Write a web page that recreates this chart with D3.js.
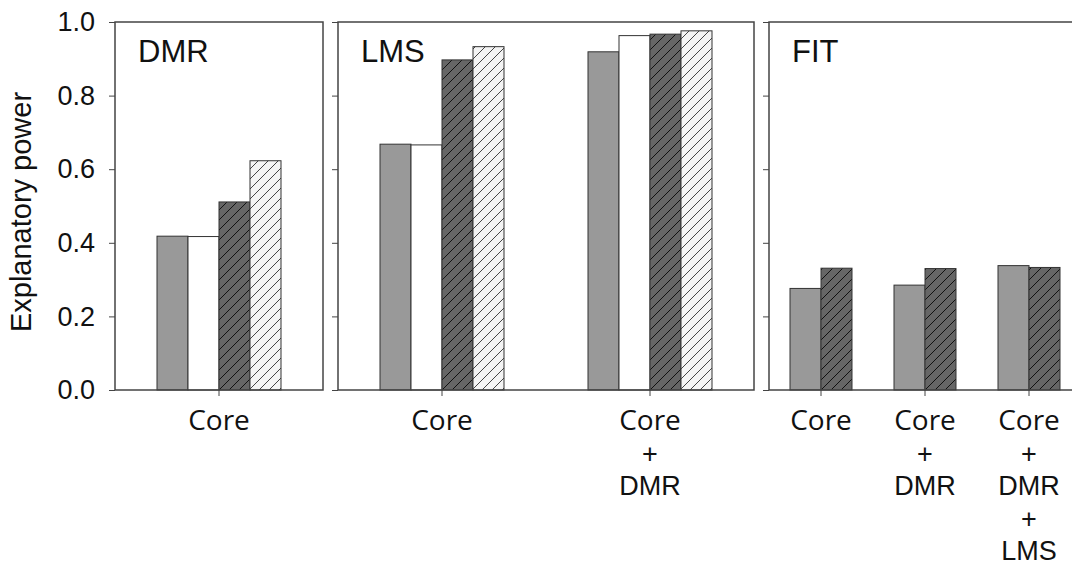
<!DOCTYPE html>
<html>
<head>
<meta charset="utf-8">
<script src="https://cdnjs.cloudflare.com/ajax/libs/d3/7.8.5/d3.min.js"></script>
<style>
  body { margin: 0; background: #fff; }
  svg { display: block; }
</style>
</head>
<body>
<div id="chart"></div>
<script>
// Values
var PANELS = ["DMR", "LMS", "FIT"];

var dmrGroups = [["Core"]];
var dmrSeries = ["gray", "white", "dark", "light"];
var dmrValues = [[0.418, 0.417, 0.511, 0.623]];

var lmsGroups = [["Core"], ["Core", "+", "DMR"]];
var lmsSeries = ["gray", "white", "dark", "light"];
var lmsValues = [
    [0.668, 0.666, 0.897, 0.933],
    [0.919, 0.963, 0.967, 0.976]
];

var fitGroups = [["Core"], ["Core", "+", "DMR"], ["Core", "+", "DMR", "+", "LMS"]];
var fitSeries = ["gray", "dark"];
var fitValues = [
    [0.276, 0.331],
    [0.285, 0.330],
    [0.338, 0.333]
];

var yTicks = [0, 0.2, 0.4, 0.6, 0.8, 1.0];
var yTitle = "Explanatory power";

var WIDTH = 1072, HEIGHT = 568;
var TOP = 22, BOTTOM = 390;
var LEFT = 115, GAP = 15, BARW = 31;
// width of one category slot in each panel (FIT is packed tighter)
var GROUPSTEP = [208, 208, 104];

var svg = d3.select("#chart").append("svg")
            .attr("width", WIDTH)
            .attr("height", HEIGHT);

// hatch patterns for the two striped series
var defs = svg.append("defs");
function hatch(id, bg, lineColor) {
    var p = defs.append("pattern")
                .attr("id", id)
                .attr("patternUnits", "userSpaceOnUse")
                .attr("width", 10)
                .attr("height", 10);
    p.append("rect").attr("width", 10).attr("height", 10).attr("fill", bg);
    p.append("path")
        .attr("d", "M-1,1 l2,-2 M0,10 l10,-10 M9,11 l2,-2")
        .attr("stroke", lineColor)
        .attr("stroke-width", 1);
}
hatch("hatchDark", "#666666", "#111");
hatch("hatchLight", "#f4f4f4", "#444");

var fills = {
    gray: "#999999",
    white: "#ffffff",
    dark: "url(#hatchDark)",
    light: "url(#hatchLight)"
};

var y = d3.scaleLinear().domain([0, 1]).range([BOTTOM, TOP]);

var panelData = [
    { name: PANELS[0], groups: dmrGroups, series: dmrSeries, values: dmrValues },
    { name: PANELS[1], groups: lmsGroups, series: lmsSeries, values: lmsValues },
    { name: PANELS[2], groups: fitGroups, series: fitSeries, values: fitValues }
];

var x0 = LEFT;
panelData.forEach(function(p, pi) {

    var w = p.groups.length * GROUPSTEP[pi];
    var g = svg.append("g").attr("transform", "translate(" + x0 + ",0)");

    var x = d3.scaleBand()
              .domain(d3.range(p.groups.length))
              .range([0, w]);
    var xs = d3.scaleBand()
               .domain(p.series)
               .range([-p.series.length * BARW / 2, p.series.length * BARW / 2]);

    // bars
    var grp = g.selectAll(".grp")
               .data(p.values)
               .enter().append("g")
               .attr("class", "grp")
               .attr("transform", function(d, i) { return "translate(" + (x(i) + x.bandwidth() / 2) + ",0)"; });

    grp.selectAll("rect")
        .data(function(d) { return d.map(function(v, k) { return { key: p.series[k], value: v }; }); })
        .enter().append("rect")
        .attr("x", function(d) { return xs(d.key); })
        .attr("y", function(d) { return y(d.value); })
        .attr("width", xs.bandwidth())
        .attr("height", function(d) { return BOTTOM - y(d.value); })
        .attr("fill", function(d) { return fills[d.key]; })
        .attr("stroke", "#333")
        .attr("stroke-width", 1);

    // y axis ticks (labels only on first panel)
    var yAxis = d3.axisLeft(y).tickValues(yTicks).tickSize(6).tickPadding(14)
                  .tickFormat(pi === 0 ? d3.format(".1f") : "");
    var ya = g.append("g").call(yAxis);
    ya.select(".domain").remove();
    ya.selectAll("line").attr("stroke", "#444");
    ya.selectAll("text")
        .attr("font-family", "Liberation Sans, Arial, sans-serif")
        .attr("font-size", 27)
        .attr("fill", "#111");

    // x axis ticks
    var xAxis = d3.axisBottom(x).tickSize(6).tickFormat("");
    var xa = g.append("g").attr("transform", "translate(0," + BOTTOM + ")").call(xAxis);
    xa.select(".domain").remove();
    xa.selectAll("line").attr("stroke", "#444");

    // panel frame
    g.append("rect")
        .attr("x", 0).attr("y", TOP)
        .attr("width", w).attr("height", BOTTOM - TOP)
        .attr("fill", "none")
        .attr("stroke", "#444")
        .attr("stroke-width", 1.5);

    // panel title
    g.append("text")
        .attr("x", 23).attr("y", 62)
        .attr("font-family", "Liberation Sans, Arial, sans-serif")
        .attr("font-size", 31)
        .attr("fill", "#111")
        .text(p.name);

    // category labels, one line per term
    p.groups.forEach(function(lines, i) {
        var t = g.append("text")
                 .attr("x", x(i) + x.bandwidth() / 2)
                 .attr("y", 430)
                 .attr("text-anchor", "middle")
                 .attr("fill", "#111");
        lines.forEach(function(s, li) {
            t.append("tspan")
             .attr("x", x(i) + x.bandwidth() / 2)
             .attr("y", 430 + li * 32.5)
             .attr("font-family", s === "Core" ? "Open Sans, sans-serif" : "Liberation Sans, Arial, sans-serif")
             .attr("font-size", s === "Core" ? 28 : 27)
             .text(s);
        });
    });

    x0 += w + GAP;
});

// y axis title
svg.append("text")
    .attr("transform", "translate(31,212) rotate(-90)")
    .attr("text-anchor", "middle")
    .attr("font-family", "Liberation Sans, Arial, sans-serif")
    .attr("font-size", 29)
    .attr("fill", "#111")
    .text(yTitle);
</script>
</body>
</html>
